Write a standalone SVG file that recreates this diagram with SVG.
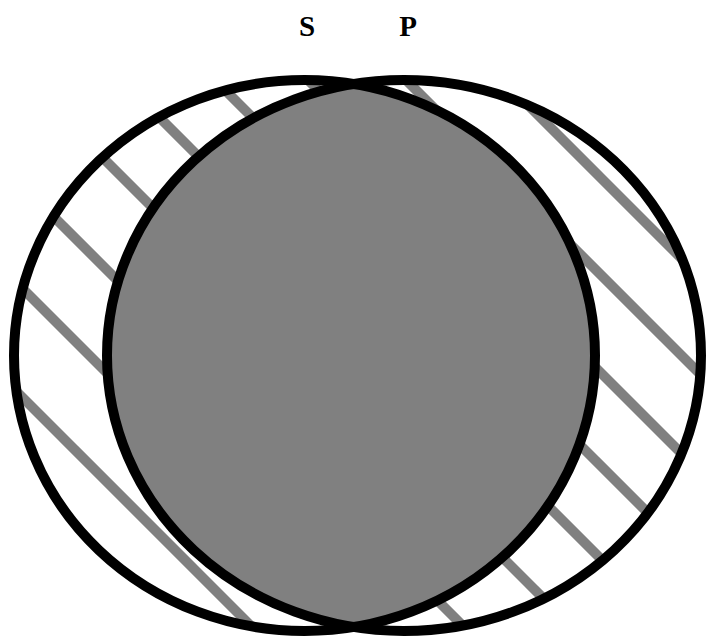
<svg xmlns="http://www.w3.org/2000/svg" width="707" height="637" viewBox="0 0 707 637">
  <style>
    .outline { fill: none; stroke: #000; stroke-width: 10; }
    .hatch { stroke: #808080; stroke-width: 10; fill: none; }
    .label { font-family: "Liberation Serif", "Times New Roman", serif; font-weight: bold; font-size: 29px; fill: #000; text-anchor: middle; }
  </style>
  <defs>
    <clipPath id="clipS">
      <ellipse cx="304.5" cy="355.5" rx="290.5" ry="275.5"/>
    </clipPath>
    <clipPath id="clipXor">
      <path clip-rule="evenodd" d="M 14,355.5 a 290.5,275.5 0 1,0 581,0 a 290.5,275.5 0 1,0 -581,0 Z M 107,355.5 a 297,275.5 0 1,0 594,0 a 297,275.5 0 1,0 -594,0 Z"/>
    </clipPath>
  </defs>
  <rect width="707" height="637" fill="#fff"/>
  <g id="intersection">
    <ellipse cx="404" cy="355.5" rx="297" ry="275.5" fill="#808080" clip-path="url(#clipS)"/>
  </g>
  <g id="hatching" clip-path="url(#clipXor)">
    <line class="hatch" x1="-50" y1="-473" x2="760" y2="337"/>
    <line class="hatch" x1="-50" y1="-376" x2="760" y2="434"/>
    <line class="hatch" x1="-50" y1="-278" x2="760" y2="532"/>
    <line class="hatch" x1="-50" y1="-185" x2="760" y2="625"/>
    <line class="hatch" x1="-50" y1="-92" x2="760" y2="718"/>
    <line class="hatch" x1="-50" y1="5" x2="760" y2="815"/>
    <line class="hatch" x1="-50" y1="113" x2="760" y2="923"/>
    <line class="hatch" x1="-50" y1="216" x2="760" y2="1026"/>
    <line class="hatch" x1="-50" y1="325" x2="760" y2="1135"/>
  </g>
  <g id="node-S">
    <ellipse class="outline" cx="304.5" cy="355.5" rx="290.5" ry="275.5"/>
    <text class="label" x="307" y="36">S</text>
  </g>
  <g id="node-P">
    <ellipse class="outline" cx="404" cy="355.5" rx="297" ry="275.5"/>
    <text class="label" x="408" y="36">P</text>
  </g>
  <g id="connectors"/>
</svg>
